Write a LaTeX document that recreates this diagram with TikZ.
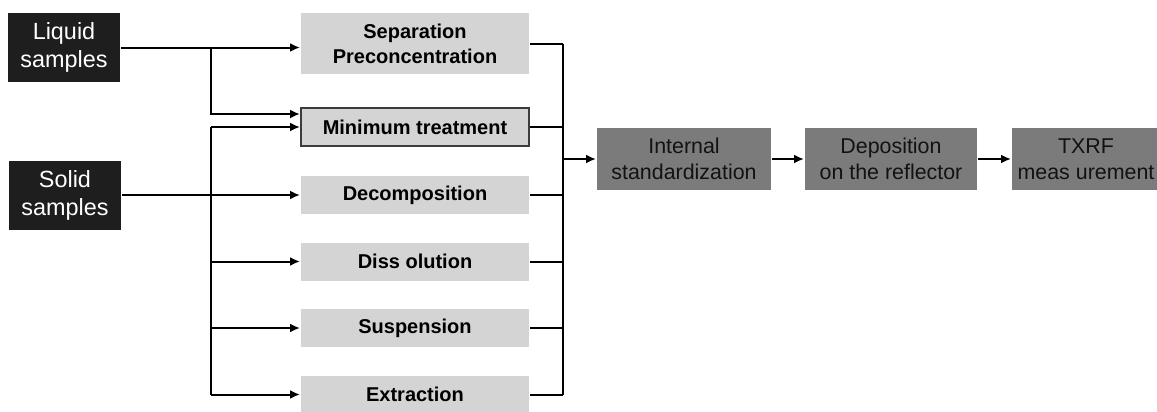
\documentclass[tikz,border=0pt]{standalone}
\usepackage{fontspec}
\setmainfont{Liberation Sans}
\usetikzlibrary{arrows.meta}
\definecolor{sampdark}{HTML}{1E1E1E}
\definecolor{prepgray}{HTML}{D4D4D4}
\definecolor{edgegray}{HTML}{3C3C3C}
\definecolor{finalgray}{HTML}{7B7B7B}
\definecolor{textdark}{HTML}{121212}
\begin{document}
\begin{tikzpicture}[x=0.5pt,y=-0.5pt,line width=1pt,
  sample/.style={fill=sampdark,text=white,font=\fontsize{11.7}{14}\selectfont,
    minimum width=56pt,minimum height=34.5pt,inner sep=0pt,align=center},
  prep/.style={fill=prepgray,text=black,font=\bfseries\fontsize{10}{12.5}\selectfont,
    minimum width=114pt,minimum height=19pt,inner sep=0pt,align=center},
  final/.style={fill=finalgray,text=textdark,font=\fontsize{10.7}{13}\selectfont,
    minimum width=87pt,minimum height=31pt,inner sep=0pt,align=center},
  arr/.style={-{Latex[length=5pt,width=4.5pt]}}]
\useasboundingbox (0,0) rectangle (1157,412);
% samples
\node[sample] (liquid) at (64,47.5) {Liquid\\samples};
\node[sample] (solid) at (65,195) {Solid\\samples};
% preparation
\node[prep,minimum height=30.5pt] (sep) at (415,43.5) {Separation\\Preconcentration};
\node[prep,draw=edgegray] (mint) at (415,127) {Minimum treatment};
\node[prep] (decomp) at (415,195) {Decomposition};
\node[prep] (dissol) at (415,261.5) {Diss olution};
\node[prep] (susp) at (415,328) {Suspension};
\node[prep] (extr) at (415,394.5) {Extraction};
% final steps
\node[final] (intern) at (684,159) {Internal\\standardization};
\node[final,minimum width=86pt] (depos) at (891,159) {Deposition\\on the reflector};
\node[final,minimum width=74pt] (txrf) at (1086,159) {TXRF\\meas urement};
% buses
\coordinate (lbus) at (211,0);
\coordinate (rbus) at (563,0);
% left side
\draw[arr] (liquid.east) -- (liquid.east -| sep.west);
\draw[arr] (lbus |- liquid.east) |- ([yshift=6.5pt]mint.west);
\draw[arr] (solid.east) -- (solid.east -| decomp.west);
\draw (lbus |- mint.west) -- (lbus |- extr.west);
\foreach \n in {mint,dissol,susp,extr}
  \draw[arr] (lbus |- \n.west) -- (\n.west);
% right side
\foreach \n in {sep,mint,decomp,dissol,susp,extr}
  \draw (\n.east) -- (\n.east -| rbus);
\draw (rbus |- sep.east) -- (rbus |- extr.east);
\draw[arr] (rbus |- intern.west) -- (intern.west);
\draw[arr] (intern) -- (depos);
\draw[arr] (depos) -- (txrf);
\end{tikzpicture}
\end{document}
